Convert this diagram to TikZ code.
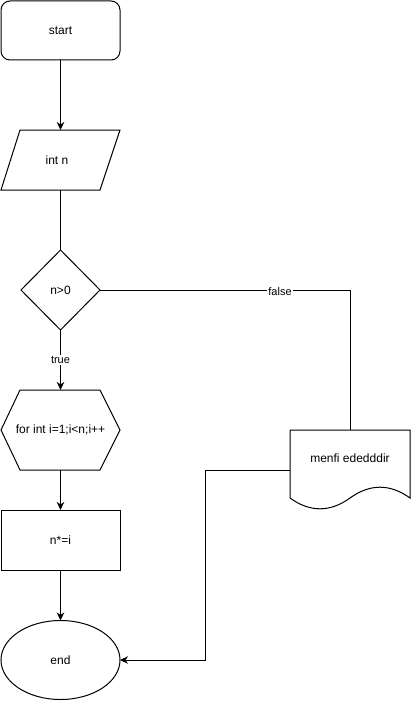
\documentclass[tikz,border=0pt]{standalone}
\usepackage{fontspec}
\setmainfont{Liberation Sans}
\usetikzlibrary{arrows.meta,calc,shapes.geometric}
\begin{document}
\begin{tikzpicture}[x=1pt,y=-1pt,
  every node/.style={font=\fontsize{12}{14}\selectfont, inner sep=0pt, outer sep=0pt},
  shapebox/.style={minimum width=119pt, minimum height=#1},
  shapebox/.default=59pt,
  line/.style={line width=1pt, draw=black},
  arr/.style={line, -{Stealth[length=8pt,width=7.5pt,inset=2.5pt]}},
  lbl/.style={fill=white, inner sep=1pt, font=\fontsize{11}{13}\selectfont}
]
\useasboundingbox (0,0) rectangle (411,701);

% terminals and process boxes
\node[shapebox, line, rounded corners=9pt] (start) at (60.5,30.5) {start};
\node[shapebox=60pt] (input) at (60.5,160) {};
\node at (57,160) {int n};
\draw[line] ($(input.north west)+(19,0)$) -- (input.north east)
  -- ($(input.south east)+(-20,0)$) -- (input.south west) -- cycle;

% decision
\node[minimum width=79pt, minimum height=80pt] (cond) at (60.5,290) {n>0};
\draw[line] (cond.north) -- (cond.east) -- (cond.south) -- (cond.west) -- cycle;

% loop header (hexagon)
\node[shapebox=80pt] (loop) at (60.5,430) {for int i=1;i<n;i++};
\draw[line] (loop.west) -- ($(loop.north west)+(19,0)$) -- ($(loop.north east)+(-20,0)$)
  -- (loop.east) -- ($(loop.south east)+(-20,0)$) -- ($(loop.south west)+(19,0)$) -- cycle;

\node[shapebox=60pt, line] (proc) at (60.5,540) {n*=i};
\node[ellipse, line, minimum width=119pt, minimum height=79pt] (stop) at (60.5,660) {end};

% document shape with wavy bottom edge
\node[minimum width=120pt, minimum height=80pt] (doc) at (350,470) {};
\node at (350,458) {menfi ededddir};
\draw[line] (doc.north west) -- (doc.north east) -- ($(doc)+(60,28)$)
  .. controls ($(doc)+(40,13.6)$) and ($(doc)+(20,13.6)$) .. ($(doc)+(0,28)$)
  .. controls ($(doc)+(-20,42.4)$) and ($(doc)+(-40,42.4)$) .. ($(doc)+(-60,28)$)
  -- cycle;

\coordinate (via) at (205,470);

% connectors
\draw[arr] (start.south) -- (input.north);
\draw[line] (input.south) -- (cond.north);
\draw[arr] (cond.south) -- node[lbl] {true} (loop.north);
\draw[line] (cond.east) -| node[lbl, pos=0.36, yshift=-2pt] {false} (doc.north);
\draw[arr] (loop.south) -- (proc.north);
\draw[arr] (proc.south) -- (stop.north);
\draw[arr] (doc.west) -- (via) |- (stop.east);
\end{tikzpicture}
\end{document}
